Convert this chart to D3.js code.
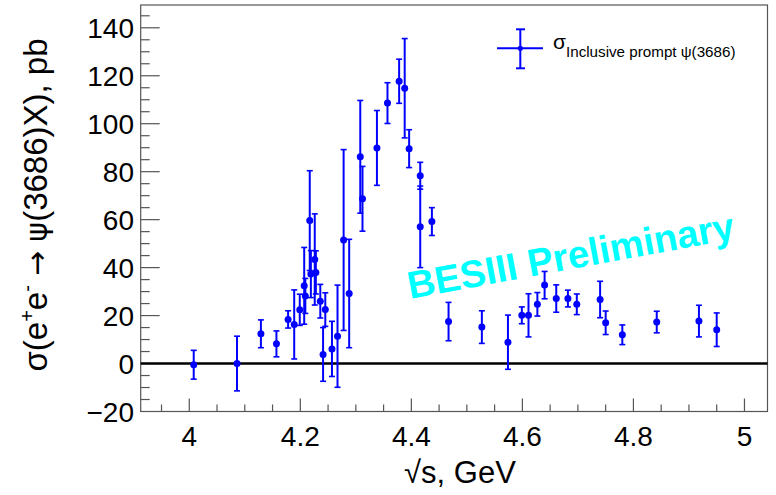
<!DOCTYPE html>
<html>
<head>
<meta charset="utf-8">
<script src="https://cdn.jsdelivr.net/npm/d3@7"></script>
<style>
  body { margin: 0; background: #fff; }
  text { font-family: "Liberation Sans", Arial, sans-serif; }
</style>
</head>
<body>
<svg id="svg1"></svg>
<script>
const width = 776;
const height = 495;

// centre-of-mass energies (GeV)
const energy = [4.008, 4.086, 4.129, 4.157, 4.178, 4.189, 4.199, 4.207, 4.209, 4.217,
    4.219, 4.226, 4.228, 4.236, 4.241, 4.245, 4.257, 4.267, 4.278, 4.288,
    4.308, 4.312, 4.338, 4.357, 4.378, 4.388, 4.396, 4.416, 4.416, 4.437,
    4.467, 4.527, 4.574, 4.599, 4.611, 4.627, 4.640, 4.661, 4.682, 4.698,
    4.740, 4.750, 4.780, 4.842, 4.918, 4.950];
// cross section (pb)
const xsec = [-0.5, 0.0, 12.4, 8.2, 18.4, 16.3, 22.4, 32.4, 28.2, 59.6,
    37.3, 43.4, 38.0, 26.0, 3.8, 22.5, 6.1, 11.4, 51.5, 29.2,
    86.2, 68.7, 89.9, 108.6, 117.7, 114.8, 89.6, 78.3, 57.0, 59.2,
    17.5, 15.2, 8.9, 20.1, 20.1, 24.7, 32.7, 27.1, 27.1, 24.7,
    26.7, 17.0, 12.0, 17.3, 17.7, 14.1];
// uncertainty (pb)
const xsecErr = [6.0, 11.4, 5.8, 5.4, 3.6, 14.4, 6.5, 16.0, 7.3, 20.8,
    9.8, 19.0, 9.0, 7.0, 11.2, 7.0, 11.5, 21.3, 37.7, 22.6,
    23.5, 13.5, 15.6, 8.5, 9.2, 20.7, 7.9, 5.6, 17.0, 5.8,
    8.0, 6.8, 11.3, 3.5, 9.0, 4.9, 5.7, 5.7, 3.5, 4.3,
    7.6, 4.9, 4.1, 4.5, 6.6, 7.0];

const xTicks = [4, 4.2, 4.4, 4.6, 4.8, 5];
const yTicks = [-20, 0, 20, 40, 60, 80, 100, 120, 140];

const points = energy.map((e, i) => ({x: e, y: xsec[i], err: xsecErr[i]}));

const svg = d3.select("#svg1")
    .attr("width", width)
    .attr("height", height);

const frame = {left: 140.7, right: 767.5, top: 5, bottom: 411.5};

const x = d3.scaleLinear().domain([3.9125, 5.0415]).range([frame.left, frame.right]);
const y = d3.scaleLinear().domain([-20, 149.5]).range([frame.bottom, frame.top]);

const axisColor = "#555";

// frame
svg.append("rect")
    .attr("x", frame.left).attr("y", frame.top)
    .attr("width", frame.right - frame.left)
    .attr("height", frame.bottom - frame.top)
    .attr("fill", "none")
    .attr("stroke", axisColor)
    .attr("stroke-width", 1.2);

// x ticks (inside, pointing up)
const xMinor = d3.range(3.95, 5.04, 0.05).filter(v => x(v) > frame.left && x(v) < frame.right);
svg.append("g").selectAll("line")
    .data(xMinor)
    .enter().append("line")
    .attr("x1", d => x(d)).attr("x2", d => x(d))
    .attr("y1", frame.bottom)
    .attr("y2", d => frame.bottom - (xTicks.some(t => Math.abs(t - d) < 1e-6) ? 13 : 7))
    .attr("stroke", axisColor)
    .attr("stroke-width", 1.2);

svg.append("g").selectAll("text")
    .data(xTicks)
    .enter().append("text")
    .attr("x", d => x(d))
    .attr("y", 446)
    .attr("text-anchor", "middle")
    .attr("font-size", 28)
    .text(d => d3.format("")(d));

// y ticks (inside, pointing right)
const yMinor = d3.range(-15, 150, 5);
svg.append("g").selectAll("line")
    .data(yMinor)
    .enter().append("line")
    .attr("x1", frame.left)
    .attr("x2", d => frame.left + (d % 20 === 0 ? 19 : 9))
    .attr("y1", d => y(d)).attr("y2", d => y(d))
    .attr("stroke", axisColor)
    .attr("stroke-width", 1.2);

svg.append("g").selectAll("text")
    .data(yTicks)
    .enter().append("text")
    .attr("x", 134)
    .attr("y", d => y(d))
    .attr("dy", "0.36em")
    .attr("text-anchor", "end")
    .attr("font-size", 28)
    .text(d => d < 0 ? "\u2212" + Math.abs(d) : d);

// zero line
svg.append("line")
    .attr("x1", frame.left).attr("x2", frame.right)
    .attr("y1", y(0)).attr("y2", y(0))
    .attr("stroke", "#000")
    .attr("stroke-width", 2.6);

// watermark
svg.append("text")
    .attr("transform", "translate(410,299) rotate(-10.5)")
    .attr("font-size", 38.5)
    .attr("font-weight", "bold")
    .attr("fill", "#00ffff")
    .text("BESIII Preliminary");

// data
const blue = "#0000ff";
const pts = svg.append("g").selectAll("g")
    .data(points)
    .enter().append("g");

pts.append("line")
    .attr("x1", d => x(d.x)).attr("x2", d => x(d.x))
    .attr("y1", d => y(d.y + d.err)).attr("y2", d => y(d.y - d.err))
    .attr("stroke", blue).attr("stroke-width", 2);

pts.selectAll(".cap")
    .data(d => [d.y + d.err, d.y - d.err].map(v => ({x: d.x, v: v})))
    .enter().append("line")
    .attr("class", "cap")
    .attr("x1", d => x(d.x) - 3).attr("x2", d => x(d.x) + 3)
    .attr("y1", d => y(d.v)).attr("y2", d => y(d.v))
    .attr("stroke", blue).attr("stroke-width", 1.6);

pts.append("circle")
    .attr("cx", d => x(d.x))
    .attr("cy", d => y(d.y))
    .attr("r", 3.5)
    .attr("fill", blue);

// legend
const lg = svg.append("g");
lg.append("line").attr("x1", 497).attr("x2", 543).attr("y1", 48.3).attr("y2", 48.3)
    .attr("stroke", blue).attr("stroke-width", 2);
lg.append("line").attr("x1", 520.3).attr("x2", 520.3).attr("y1", 29.3).attr("y2", 68.3)
    .attr("stroke", blue).attr("stroke-width", 2);
[29.3, 68.3].forEach(v => {
    lg.append("line").attr("x1", 516).attr("x2", 525).attr("y1", v).attr("y2", v)
        .attr("stroke", blue).attr("stroke-width", 2);
});
lg.append("circle").attr("cx", 520.3).attr("cy", 48.3).attr("r", 2.6).attr("fill", blue);

const lt = lg.append("text").attr("x", 553).attr("y", 49);
lt.append("tspan").attr("font-size", 21).text("σ");
lt.append("tspan").attr("font-size", 15.2).attr("dy", 7.5).text("Inclusive prompt ψ(3686)");

// axis titles
svg.append("text")
    .attr("x", 460)
    .attr("y", 483)
    .attr("text-anchor", "middle")
    .attr("font-size", 31)
    .text("√s, GeV");

const yt = svg.append("text")
    .attr("transform", "translate(47,205) rotate(-90)")
    .attr("text-anchor", "middle")
    .attr("font-size", 33);
yt.append("tspan").text("σ(e");
yt.append("tspan").attr("font-size", 20).attr("dy", -13).text("+");
yt.append("tspan").attr("dy", 13).text("e");
yt.append("tspan").attr("font-size", 20).attr("dy", -13).text("-");
yt.append("tspan").attr("dy", 13).text(" ");
yt.append("tspan").attr("font-family", "DejaVu Sans").attr("font-size", 30).text("→");
yt.append("tspan").text(" ");
yt.append("tspan").attr("font-family", "DejaVu Sans").attr("font-size", 30).text("ψ");
yt.append("tspan").text("(3686)X), pb");
</script>
</body>
</html>
